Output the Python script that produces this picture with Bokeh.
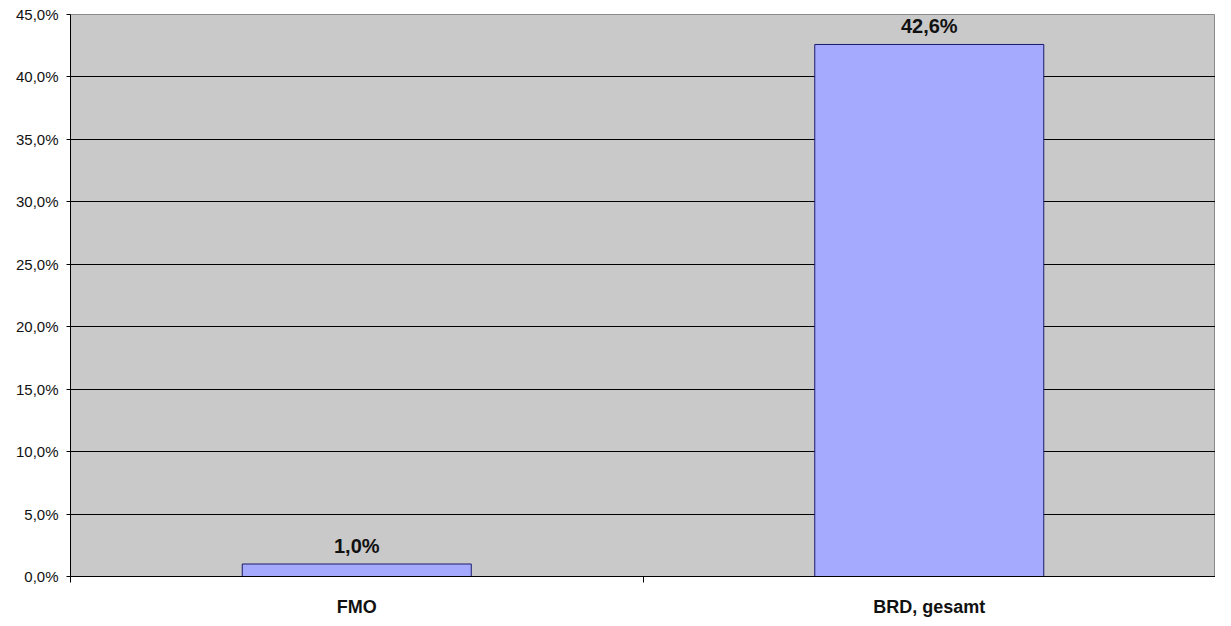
import numpy as np
from bokeh.plotting import figure
from bokeh.models import ColumnDataSource, FixedTicker, Range1d, LabelSet
from bokeh.core.properties import value
from bokeh.embed import file_html
from bokeh.resources import INLINE

categories = ["FMO", "BRD, gesamt"]
values = [1.0, 42.6]
y_ticks = [0, 5, 10, 15, 20, 25, 30, 35, 40, 45]

x_pos = np.arange(len(categories)) + 0.5
labels = [f"{v:.1f}%".replace(".", ",") for v in values]
src = ColumnDataSource(dict(x=x_pos, top=values, label=labels))

W, H = 1215, 610
BL, BT, BB = 70, 14, 34
p = figure(width=W, height=H, output_backend="svg", toolbar_location=None,
           x_range=Range1d(0, len(categories)), y_range=Range1d(0, 45),
           min_border_left=BL, min_border_right=0, min_border_top=BT, min_border_bottom=BB)
p.frame_width = W - BL
p.frame_height = H - BT - BB

p.background_fill_color = "#C9C9C9"
p.border_fill_color = "white"
p.outline_line_color = "#8A8A8A"

p.vbar(x="x", top="top", width=0.4, bottom=0, source=src,
       fill_color="#A6AAFF", line_color="#1A1A6E", line_width=1)

p.add_layout(LabelSet(x="x", y="top", text="label", source=src,
                      text_align="center", text_baseline="alphabetic", y_offset=11,
                      text_font=value("Liberation Sans"), text_font_style="bold",
                      text_font_size="20px", text_color="#111111"))

# y axis
p.yaxis.ticker = FixedTicker(ticks=y_ticks)
p.yaxis.major_label_overrides = {t: f"{t:.1f}%".replace(".", ",") for t in y_ticks}
p.yaxis.major_label_text_font = "Liberation Sans"
p.yaxis.major_label_text_font_size = "15px"
p.yaxis.major_label_text_color = "#111111"
p.yaxis.major_tick_in = 0
p.yaxis.major_tick_out = 4
p.yaxis.minor_tick_line_color = None
p.yaxis.axis_line_color = "black"
p.yaxis.major_label_standoff = 8

# x axis
p.xaxis.ticker = FixedTicker(ticks=list(x_pos), minor_ticks=list(range(len(categories) + 1)))
p.xaxis.major_label_overrides = {float(x): c for x, c in zip(x_pos, categories)}
p.xaxis.major_label_text_font = "Liberation Sans"
p.xaxis.major_label_text_font_style = "bold"
p.xaxis.major_label_text_font_size = "18px"
p.xaxis.major_label_text_color = "#111111"
p.xaxis.major_tick_line_color = None
p.xaxis.major_tick_in = 0
p.xaxis.major_tick_out = 0
p.xaxis.minor_tick_in = 0
p.xaxis.minor_tick_out = 6
p.xaxis.minor_tick_line_color = "black"
p.xaxis.axis_line_color = "black"
p.xaxis.major_label_standoff = 14

p.xgrid.grid_line_color = None
p.ygrid.ticker = FixedTicker(ticks=y_ticks[1:-1])
p.ygrid.grid_line_color = "black"
p.ygrid.grid_line_width = 1

open("out.html", "w").write(file_html(p, INLINE))
